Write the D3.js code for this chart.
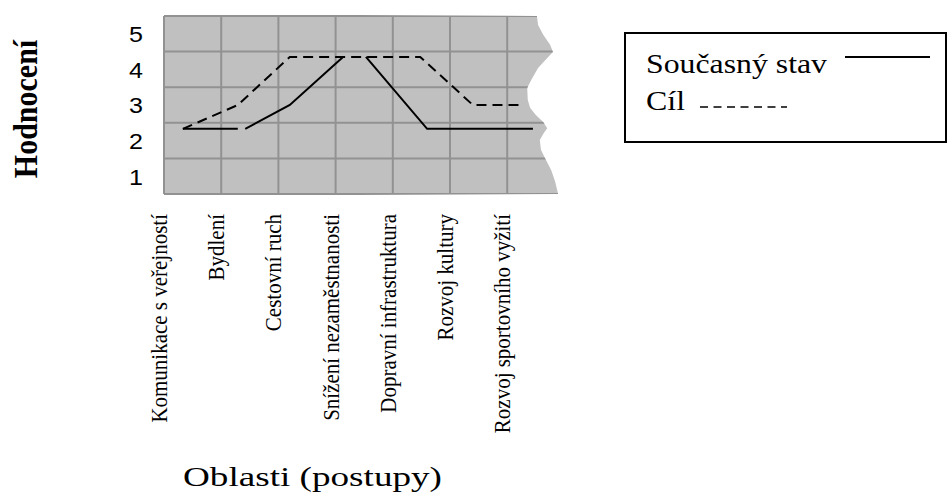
<!DOCTYPE html>
<html>
<head>
<meta charset="utf-8">
<script src="https://cdn.jsdelivr.net/npm/d3@7"></script>
<style>
body { margin: 0; background: #fff; }
text { fill: #000; }
.serif { font-family: "Liberation Serif", "Times New Roman", serif; }
</style>
</head>
<body>
<div id="display"></div>
<script>
var width = 948,
    height = 495;

// oblasti (x)
var categories = ["Komunikace s veřejností", "Bydlení", "Cestovní ruch", "Snížení nezaměstnanosti",
    "Dopravní infrastruktura", "Rozvoj kultury", "Rozvoj sportovního vyžití"];
var yTicks = [1, 2, 3, 4, 5];

// Současný stav: position along the category axis (columns) + rating, null = break
var currentPos = [0.33, 1.29, null, 1.42, 2.20, 3.13, null, 3.53, 4.60, 6.45];
var currentVal = [2.33, 2.33, null, 2.33, 3.00, 4.35, null, 4.35, 2.33, 2.33];

// Cíl
var targetPos = [0.33, 1.29, 2.20, 4.48, 5.40, 6.26];
var targetVal = [2.33, 3.00, 4.35, 4.35, 3.00, 3.00];

// torn right edge of the grey area (rating, column position)
var edgeVal = [5.5, 5.25, 4.97, 4.69, 4.49, 4.32, 4.04, 3.70, 3.48, 3.14, 2.92, 2.72, 2.52, 2.35, 2.21, 2.02, 1.74, 1.51, 1.17, 0.84, 0.5];
var edgePos = [6.52, 6.54, 6.63, 6.75, 6.80, 6.70, 6.54, 6.42, 6.35, 6.36, 6.40, 6.50, 6.63, 6.70, 6.64, 6.57, 6.59, 6.66, 6.77, 6.84, 6.89];

var svg = d3.select("#display")
    .append("svg")
    .attr("width", width)
    .attr("height", height);

var left = 164, colW = 57.2;
var x = d3.scaleBand().domain(categories).range([left, left + categories.length * colW]);
var xPos = d3.scaleLinear().domain([0, categories.length]).range(x.range());
var y = d3.scaleLinear().domain([0.5, 5.5]).range([194, 16]);

// the original picture is a bit wider than tall
var stretch = 1.14;

//grey area with torn edge
var edge = d3.zip(edgePos, edgeVal);
var edgeLine = edge.map(d => "L" + xPos(d[0]) + "," + y(d[1])).join("");
var areaPath = "M" + x.range()[0] + "," + y(5.5) + edgeLine + "L" + x.range()[0] + "," + y(0.5) + "Z";
var clipPath = "M" + (x.range()[0] - 2) + "," + (y(5.5) - 2) + edgeLine + "L" + (x.range()[0] - 2) + "," + (y(0.5) + 2) + "Z";

svg.append("clipPath").attr("id", "torn")
    .append("path").attr("d", clipPath);

svg.append("path")
    .attr("d", areaPath)
    .attr("fill", "#c0c0c0");

var grid = svg.append("g").attr("clip-path", "url(#torn)")
    .attr("stroke", "#929292")
    .attr("stroke-width", 2);

grid.selectAll(".hline")
    .data(d3.range(0, 6).map(k => k + 0.5))
    .enter().append("line")
    .attr("x1", x.range()[0]).attr("x2", x.range()[1] + 10)
    .attr("y1", d => y(d)).attr("y2", d => y(d));

grid.selectAll(".vline")
    .data(categories)
    .enter().append("line")
    .attr("x1", d => x(d)).attr("x2", d => x(d))
    .attr("y1", y(5.5)).attr("y2", y(0.5));

//lines
var line = d3.line()
    .defined(d => d[0] != null)
    .x(d => xPos(d[0]))
    .y(d => y(d[1]));

svg.append("path")
    .attr("d", line(d3.zip(currentPos, currentVal)))
    .attr("fill", "none")
    .attr("stroke", "#000")
    .attr("stroke-width", 2);

svg.append("path")
    .attr("d", line(d3.zip(targetPos, targetVal)))
    .attr("fill", "none")
    .attr("stroke", "#000")
    .attr("stroke-width", 2)
    .attr("stroke-dasharray", "10,6");

//y axis
var yAxis = svg.append("g")
    .attr("transform", "translate(143,0)")
    .call(d3.axisLeft(y).tickValues(yTicks).tickFormat(d3.format("d")).tickSize(0).tickPadding(0));
yAxis.select(".domain").remove();
yAxis.selectAll("text")
    .attr("font-family", "'Liberation Sans', Arial, sans-serif")
    .attr("font-size", 22)
    .attr("fill", "#222")
    .attr("dy", "0.36em")
    .attr("transform", "scale(" + stretch + ",1)");

//category labels
svg.selectAll(".cat")
    .data(categories)
    .enter().append("text")
    .attr("class", "cat serif")
    .attr("transform", d => "translate(" + (x(d) + 3) + ",214) scale(" + stretch + ",1) rotate(-90)")
    .attr("text-anchor", "end")
    .attr("font-size", 21)
    .text(d => d);

//axis titles
svg.append("text")
    .attr("class", "serif")
    .attr("transform", "translate(37,109) scale(" + stretch + ",1) rotate(-90)")
    .attr("text-anchor", "middle")
    .attr("font-size", 30)
    .attr("font-weight", "bold")
    .text("Hodnocení");

svg.append("text")
    .attr("class", "serif")
    .attr("x", 183).attr("y", 486)
    .attr("font-size", 28)
    .attr("textLength", 259)
    .attr("lengthAdjust", "spacingAndGlyphs")
    .text("Oblasti (postupy)");

//legend
var legend = svg.append("g");
legend.append("rect")
    .attr("x", 625).attr("y", 33)
    .attr("width", 321).attr("height", 109)
    .attr("fill", "none")
    .attr("stroke", "#000")
    .attr("stroke-width", 2);

legend.append("text")
    .attr("class", "serif")
    .attr("x", 646).attr("y", 73)
    .attr("font-size", 28)
    .attr("textLength", 181)
    .attr("lengthAdjust", "spacingAndGlyphs")
    .text("Současný stav");

legend.append("text")
    .attr("class", "serif")
    .attr("x", 646).attr("y", 110)
    .attr("font-size", 28)
    .attr("textLength", 39)
    .attr("lengthAdjust", "spacingAndGlyphs")
    .text("Cíl");

legend.append("line")
    .attr("x1", 845).attr("x2", 930)
    .attr("y1", 57).attr("y2", 57)
    .attr("stroke", "#000")
    .attr("stroke-width", 2);

legend.append("line")
    .attr("x1", 700).attr("x2", 787)
    .attr("y1", 107).attr("y2", 107)
    .attr("stroke", "#000")
    .attr("stroke-width", 1.6)
    .attr("stroke-dasharray", "8,5.5");
</script>
</body>
</html>
